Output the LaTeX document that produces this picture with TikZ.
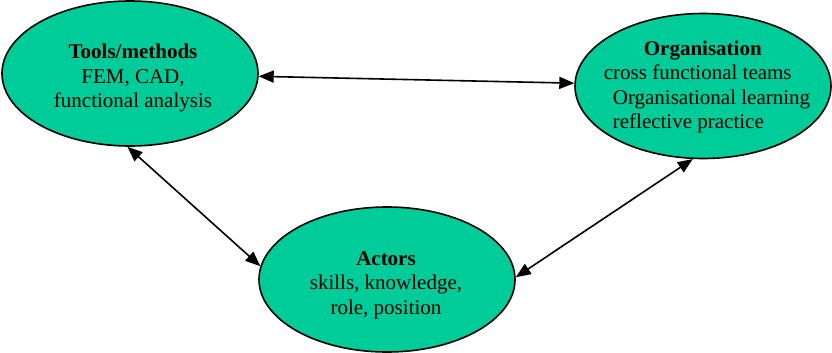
\documentclass[tikz,border=0pt]{standalone}
\usepackage{fontspec}
\setmainfont{Liberation Serif}
\usetikzlibrary{shapes.geometric,arrows.meta}
\definecolor{bubble}{RGB}{0,204,153}
\tikzset{
  bubble/.style={ellipse,draw=black,line width=1.6pt,fill=bubble,inner sep=0pt,
    minimum width=256pt,minimum height=145pt},
  label/.style={align=center,font=\fontsize{21}{24.5}\selectfont,inner sep=0pt},
  link/.style={line width=1.6pt,{Triangle[length=15pt,width=12pt]}-{Triangle[length=15pt,width=12pt]}}
}
\begin{document}
\begin{tikzpicture}[x=1pt,y=-1pt]
\useasboundingbox (0,0) rectangle (832,353);
\node[bubble] (tools) at (130,73.5) {};
\node[bubble] (org) at (703,86) {};
\node[bubble] (actors) at (387,279.5) {};
\node[label] (toolstext) at (133,78) {\textbf{Tools/methods}\\FEM, CAD,\\functional analysis};
\node[label,align=left] (orgtext) at (707,87) {\hspace*{40pt}\textbf{Organisation}\\cross functional teams\\\hspace*{9pt}Organisational learning\\\hspace*{9pt}reflective practice};
\node[label] (actorstext) at (386,285) {\textbf{Actors}\\skills, knowledge,\\role, position};
\draw[link] (tools) -- (org);
\draw[link] (tools.-92) -- (actors.174);
\draw[link] (org.-98) -- (actors.1);
\end{tikzpicture}
\end{document}
